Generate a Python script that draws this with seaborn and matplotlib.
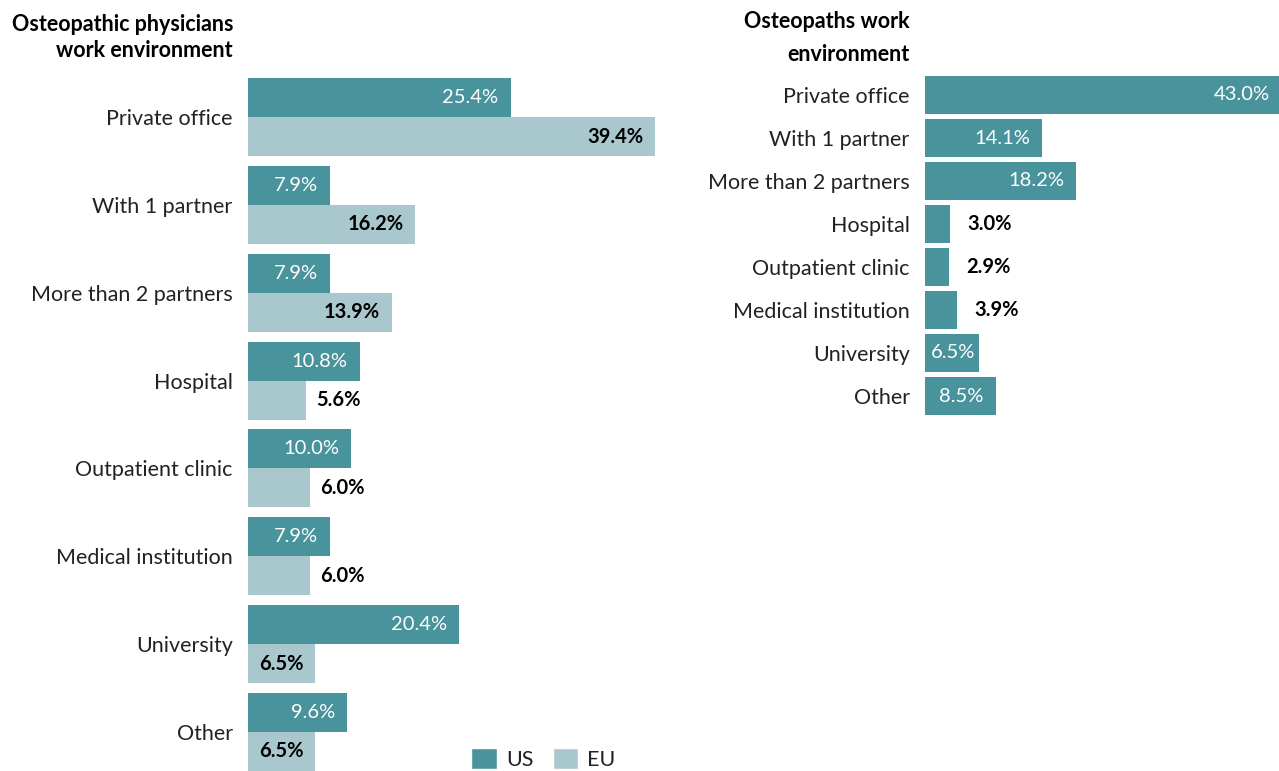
import pandas as pd
import numpy as np
import matplotlib.pyplot as plt
import seaborn as sns
from matplotlib.patches import Patch

sns.set_theme(style="white")
plt.rcParams['font.family'] = ['Lato', 'DejaVu Sans']

# data
categories = ['Private office', 'With 1 partner', 'More than 2 partners', 'Hospital',
              'Outpatient clinic', 'Medical institution', 'University', 'Other']
physicians_us = [25.4, 7.9, 7.9, 10.8, 10.0, 7.9, 20.4, 9.6]
physicians_eu = [39.4, 16.2, 13.9, 5.6, 6.0, 6.0, 6.5, 6.5]
osteopaths = [43.0, 14.1, 18.2, 3.0, 2.9, 3.9, 6.5, 8.5]
regions = ['US', 'EU']

US_COLOR = '#48939c'
EU_COLOR = '#a8c8cd'
TEXT = '#222222'

df_left = pd.DataFrame({
    'Environment': categories * 2,
    'Share': physicians_us + physicians_eu,
    'Region': ['US'] * len(categories) + ['EU'] * len(categories),
})
df_right = pd.DataFrame({'Environment': categories, 'Share': osteopaths})

fig = plt.figure(figsize=(12.79, 7.71), dpi=100)
W, H = 1279, 771

ax1 = fig.add_axes([248 / W, 0, 432 / W, (H - 78) / H])
ax2 = fig.add_axes([925 / W, (H - 417.5) / H, (W - 925) / W, 344 / H])

sns.barplot(data=df_left, y='Environment', x='Share', hue='Region', hue_order=regions,
            palette=[US_COLOR, EU_COLOR], orient='h', width=0.888, ax=ax1,
            legend=False, errorbar=None, saturation=1, linewidth=0)
sns.barplot(data=df_right, y='Environment', x='Share', color=US_COLOR, orient='h',
            width=0.884, ax=ax2, errorbar=None, saturation=1, linewidth=0)

ax1.set_xlim(0, 41.8)
ax1.set_ylim(7.444, -0.444)
ax2.set_xlim(0, 42.65)
ax2.set_ylim(7.5, -0.5)


def label_bars(ax, bars, inside_color, out_pad):
    # values from 6.5% up fit their label inside the bar
    for bar in bars:
        v = bar.get_width()
        y = bar.get_y() + bar.get_height() / 2
        px = ax.transData.transform((v, 0))[0] - ax.transData.transform((0, 0))[0]
        txt = f'{v:.1f}%'
        if v >= 6.5:
            pad = min(12, max(2, px - 50))
            ax.annotate(txt, xy=(v, y), xytext=(-pad, 0), textcoords='offset pixels',
                        ha='right', va='center', fontsize=14.5, color=inside_color,
                        fontweight='bold' if inside_color != 'white' else 'normal',
                        annotation_clip=False)
        else:
            ax.annotate(txt, xy=(v, y), xytext=(out_pad, 0), textcoords='offset pixels',
                        ha='left', va='center', fontsize=14.5, color='black',
                        fontweight='bold', annotation_clip=False)


label_bars(ax1, ax1.containers[0], 'white', 10)
label_bars(ax1, ax1.containers[1], 'black', 10)
label_bars(ax2, ax2.containers[0], 'white', 17)

for ax in (ax1, ax2):
    sns.despine(ax=ax, left=True, bottom=True)
    ax.set_xlabel('')
    ax.set_ylabel('')
    ax.set_xticks([])
    ax.tick_params(axis='y', length=0, pad=11, labelsize=15.5, labelcolor=TEXT)
    ax.grid(False)

fig.text(233 / W, 1 - 14 / H, 'Osteopathic physicians\nwork environment', ha='right', va='top',
         fontsize=15.5, fontweight='bold', color='black', linespacing=1.3)
fig.text(910 / W, 1 - 11 / H, 'Osteopaths work\nenvironment', ha='right', va='top',
         fontsize=15.5, fontweight='bold', color='black', linespacing=1.7)

handles = [Patch(facecolor=US_COLOR, label='US'), Patch(facecolor=EU_COLOR, label='EU')]
fig.legend(handles=handles, loc='lower left', bbox_to_anchor=(452 / W, -18 / H), ncol=2,
           frameon=False, fontsize=15.5, handlelength=1.2, handleheight=1.1,
           handletextpad=0.4, columnspacing=0.9, labelcolor=TEXT)

fig.savefig('out.png', dpi=100)
